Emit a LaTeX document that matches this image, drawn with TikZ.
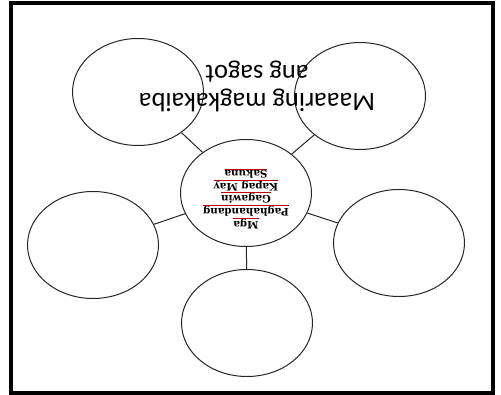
\documentclass[tikz,border=0pt]{standalone}
\usepackage{fontspec}
\setmainfont{Liberation Serif}
\newfontfamily\calibrifont{Carlito}
\newfontfamily\hubfont{DejaVu Serif}
\usetikzlibrary{shapes.geometric}
\newcommand{\redmark}[1]{{\color{red!75!black}\underline{\color{black}#1}}}

\begin{document}
\begin{tikzpicture}[
        x=1pt, y=-1pt,
        bubble/.style={ellipse, draw=black!85, line width=1pt, minimum width=131pt, minimum height=107pt, inner sep=0pt},
        hub/.style={bubble, font=\hubfont\bfseries\fontsize{10.3}{12}\selectfont, align=center},
        note/.style={font=\calibrifont\fontsize{26.5}{28}\selectfont, align=center},
        link/.style={draw=black!85, line width=1pt}
    ]
    \useasboundingbox (0,0) rectangle (501,395);

    % Cornice
    \draw[line width=4pt] (11,3) rectangle (493,393);

    % Cerchi (the whole page is upside down)
    \node[hub, rotate=180]    (hub)      at (246,193) {\redmark{Mga}\\\redmark{Paghahandang}\\\redmark{Gagawin}\\\redmark{Kapag May}\\\redmark{Sakuna}\\[2pt]\mbox{}};
    \node[bubble]             (upleft)   at (138,92)  {};
    \node[bubble]             (upright)  at (360,96)  {};
    \node[bubble]             (left)     at (93,245)  {};
    \node[bubble]             (right)    at (399,243) {};
    \node[bubble]             (down)     at (247,323) {};

    % Collegamenti
    \draw[link] (hub) -- (upleft);
    \draw[link] (hub) -- (upright);
    \draw[link] (hub) -- (left);
    \draw[link] (hub) -- (right);
    \draw[link] (hub) -- (down);

    % Nota
    \node[note, rotate=180]   (answer)   at (257,86)  {Maaaring magkakaiba\\ang sagot};

    \end{tikzpicture}
\end{document}
